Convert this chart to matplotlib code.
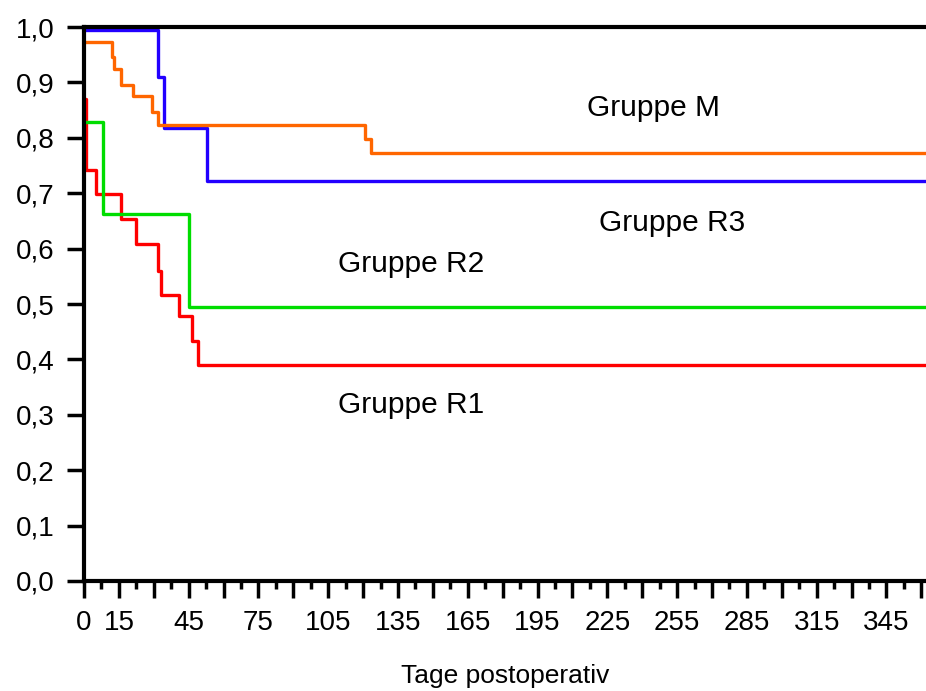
import matplotlib.pyplot as plt
from matplotlib.ticker import FixedLocator

plt.rcParams['font.family'] = ['Liberation Sans', 'DejaVu Sans']

# Kaplan-Meier Überlebenskurven, Tage postoperativ
tage_r1 = [0, 1, 5.2, 15.9, 22.3, 31.9, 32.9, 41, 46.5, 48.9, 370]
surv_r1 = [0.87, 0.741, 0.698, 0.653, 0.608, 0.56, 0.517, 0.478, 0.433, 0.39, 0.39]

tage_r2 = [0, 8, 45, 370]
surv_r2 = [0.829, 0.662, 0.495, 0.495]

tage_r3 = [0, 31.8, 34.5, 52.7, 370]
surv_r3 = [0.994, 0.909, 0.818, 0.722, 0.722]

tage_m = [0, 11.9, 13, 15.8, 21.2, 29.1, 31.9, 120.7, 123.6, 370]
surv_m = [0.973, 0.946, 0.925, 0.895, 0.875, 0.847, 0.823, 0.797, 0.773, 0.773]

x_labels = [0, 15, 45, 75, 105, 135, 165, 195, 225, 255, 285, 315, 345]
y_ticks = [i / 10 for i in range(11)]

fig = plt.figure(figsize=(9.26, 6.91), dpi=100)
ax = fig.add_axes([0.0907, 0.1592, 0.9093, 0.8017])

ax.step(tage_r1, surv_r1, where='post', color='#ff0000', lw=2.4)
ax.step(tage_r2, surv_r2, where='post', color='#00dd00', lw=2.4)
ax.step(tage_r3, surv_r3, where='post', color='#2200ff', lw=2.4)
ax.step(tage_m, surv_m, where='post', color='#ff6600', lw=2.4)

ax.text(245, 0.854, 'Gruppe M', fontsize=21.5, ha='center', va='center')
ax.text(253, 0.646, 'Gruppe R3', fontsize=21.5, ha='center', va='center')
ax.text(140.5, 0.572, 'Gruppe R2', fontsize=21.5, ha='center', va='center')
ax.text(140.5, 0.318, 'Gruppe R1', fontsize=21.5, ha='center', va='center')

ax.set_xlim(0, 362)
ax.set_ylim(0, 1.0)

ax.xaxis.set_major_locator(FixedLocator(range(0, 361, 15)))
ax.xaxis.set_minor_locator(FixedLocator([7.5 + 15 * i for i in range(24)]))
ax.set_xticklabels([str(v) if v in x_labels else '' for v in range(0, 361, 15)])
ax.set_yticks(y_ticks)
ax.set_yticklabels([f'{v:.1f}'.replace('.', ',') for v in y_ticks])

ax.tick_params(axis='both', which='major', direction='out', length=12, width=2.5,
               labelsize=20)
ax.tick_params(axis='y', which='major', pad=9)
ax.tick_params(axis='x', which='major', pad=9)
ax.tick_params(axis='x', which='minor', direction='out', length=6, width=2.5)

for side in ['left', 'bottom', 'top']:
    ax.spines[side].set_linewidth(3)
ax.spines['right'].set_visible(False)

ax.set_xlabel('Tage postoperativ', fontsize=19, labelpad=20)

fig.savefig('out.png', dpi=100)
